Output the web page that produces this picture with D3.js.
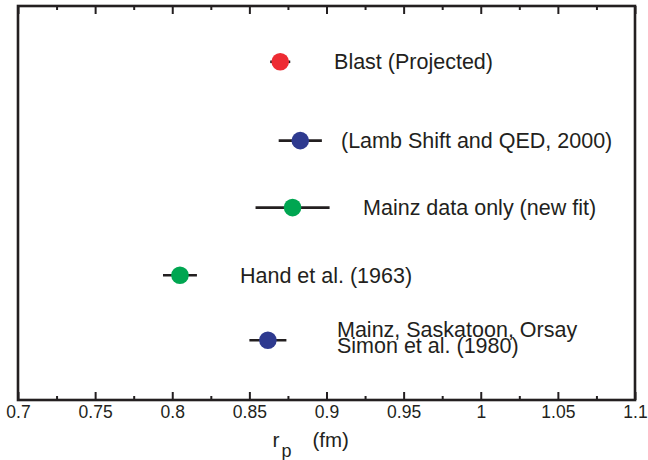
<!DOCTYPE html>
<html>
<head>
<meta charset="utf-8">
<script src="https://cdn.jsdelivr.net/npm/d3@7"></script>
<style>
  html, body { margin: 0; padding: 0; background: #fff; }
  svg text { font-family: "Liberation Sans", Arial, Helvetica, sans-serif; fill: #231F20; }
</style>
</head>
<body>
<svg id="chart" width="648" height="460"></svg>
<script>
// ---- data ----
const labels = [
  ["Blast (Projected)"],
  ["(Lamb Shift and QED, 2000)"],
  ["Mainz data only (new fit)"],
  ["Hand et al. (1963)"],
  ["Mainz, Saskatoon, Orsay", "Simon et al. (1980)"]
];
const rpValues = [0.870, 0.883, 0.878, 0.805, 0.862];
const rpErrors = [0.0065, 0.014, 0.024, 0.011, 0.012];
const rowValues = [5.15, 3.95, 2.93, 1.90, 0.91];
const colors = ["#ED2B33", "#2E3A8F", "#00A651", "#00A651", "#2E3A8F"];
const majorTicks = [0.7, 0.75, 0.8, 0.85, 0.9, 0.95, 1.0, 1.05, 1.1];
const tickLabels = ["0.7", "0.75", "0.8", "0.85", "0.9", "0.95", "1", "1.05", "1.1"];
const minorTicks = [0.725, 0.775, 0.825, 0.875, 0.925, 0.975, 1.025, 1.075];
// label anchor positions (layout, in data units of x)
const labelAnchorX = [0.9049, 0.9094, 0.9237, 0.8439, 0.9068];

// ---- layout ----
const margin = { left: 18, right: 13, top: 6, bottom: 60 };
const W = 648, H = 460;
const x0 = margin.left, x1 = W - margin.right;
const y0 = H - margin.bottom, y1 = margin.top;
const ink = "#231F20";

const svg = d3.select("#chart");
const x = d3.scaleLinear().domain([0.7, 1.1]).range([x0, x1]);
const y = d3.scaleLinear().domain([0, 6]).range([y0, y1]);

// axes (ticks inward)
const fmt = d => tickLabels[majorTicks.findIndex(v => Math.abs(v - d) < 1e-9)];
const gB = svg.append("g").attr("transform", `translate(0,${y0})`)
  .call(d3.axisBottom(x).tickValues(majorTicks).tickSizeInner(-8).tickSizeOuter(0).tickPadding(5.5).tickFormat(fmt));
const gBm = svg.append("g").attr("transform", `translate(0,${y0})`)
  .call(d3.axisBottom(x).tickValues(minorTicks).tickSizeInner(-4).tickSizeOuter(0).tickFormat(""));
const gT = svg.append("g").attr("transform", `translate(0,${y1})`)
  .call(d3.axisTop(x).tickValues(majorTicks).tickSizeInner(-8).tickSizeOuter(0).tickFormat(""));
const gTm = svg.append("g").attr("transform", `translate(0,${y1})`)
  .call(d3.axisTop(x).tickValues(minorTicks).tickSizeInner(-4).tickSizeOuter(0).tickFormat(""));
[gB, gBm, gT, gTm].forEach(g => {
  g.select(".domain").remove();
  g.selectAll(".tick line").attr("stroke", ink).attr("stroke-width", 2);
});
gB.selectAll(".tick text")
  .attr("font-size", 17.5)
  .style("font-family", '"Liberation Sans", Arial, sans-serif')
  .attr("fill", ink);

// frame
svg.append("rect")
  .attr("x", x0).attr("y", y1)
  .attr("width", x1 - x0).attr("height", y0 - y1)
  .attr("fill", "none").attr("stroke", ink).attr("stroke-width", 2.6);

// axis title
const tx = x(0.9);
const title = svg.append("g");
title.append("text").attr("x", tx - 54).attr("y", 447).attr("font-size", 21).text("r");
title.append("text").attr("x", tx - 45).attr("y", 457).attr("font-size", 18).text("p");
title.append("text").attr("x", tx - 14).attr("y", 447).attr("font-size", 20.5).text("(fm)");

// points
const pts = svg.append("g");
rpValues.forEach((v, i) => {
  const cy = y(rowValues[i]);
  pts.append("line")
    .attr("x1", x(v - rpErrors[i])).attr("x2", x(v + rpErrors[i]))
    .attr("y1", cy).attr("y2", cy)
    .attr("stroke", ink).attr("stroke-width", 2.6);
  pts.append("circle")
    .attr("cx", x(v)).attr("cy", cy).attr("r", 8.8)
    .attr("fill", colors[i]);
  const lines = labels[i];
  const t = pts.append("text")
    .attr("x", x(labelAnchorX[i]))
    .attr("font-size", 21.5);
  if (lines.length === 1) {
    t.attr("y", cy + 7.5).text(lines[0]);
  } else {
    lines.forEach((s, k) => {
      t.append("tspan").attr("x", x(labelAnchorX[i]))
        .attr("y", cy - 3 + k * 15.8).text(s);
    });
  }
});
</script>
</body>
</html>
